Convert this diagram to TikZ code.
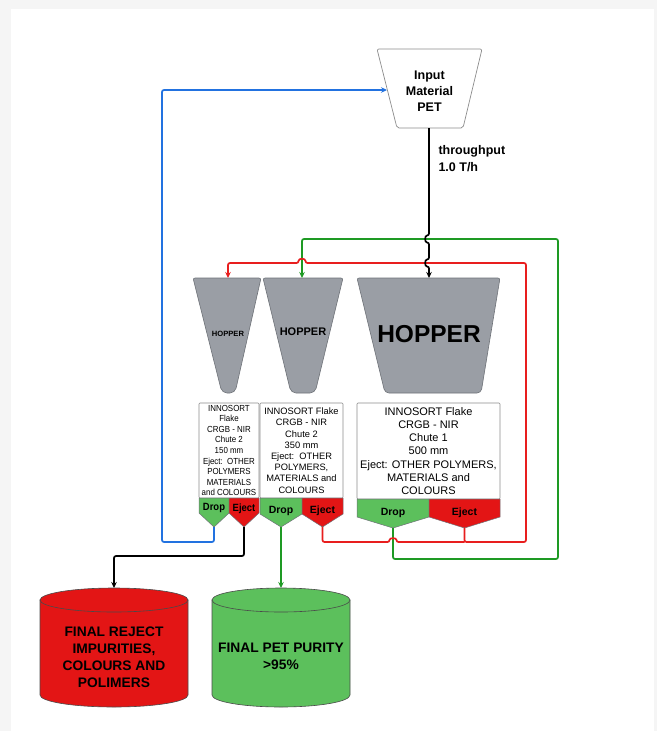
\documentclass[tikz,border=0pt]{standalone}
\usepackage{fontspec}
\setmainfont{Liberation Sans}
\newfontfamily\narrowsans[FakeStretch=0.9]{Liberation Sans}
\usetikzlibrary{arrows.meta}
\definecolor{bggray}{HTML}{F5F5F5}
\definecolor{hopgray}{HTML}{9A9EA5}
\definecolor{hopedge}{HTML}{6E7278}
\definecolor{boxedge}{HTML}{8C8C8C}
\definecolor{redfill}{HTML}{E31515}
\definecolor{greenfill}{HTML}{5CC05C}
\definecolor{redc}{HTML}{E81E1E}
\definecolor{greenc}{HTML}{1E9A24}
\definecolor{bluec}{HTML}{2272E0}
\definecolor{cyledge}{HTML}{4A4A4A}
\begin{document}
\begin{tikzpicture}[x=1pt,y=-1pt,
  conn/.style={line width=1.7pt, rounded corners=2pt},
  arr/.style={-{Stealth[length=6pt,width=5.5pt]}},
  hopper/.style={fill=hopgray, draw=hopedge, line width=0.6pt, rounded corners=2pt},
  sbox/.style={draw=boxedge, fill=white, line width=0.6pt, rounded corners=1pt, inner sep=0pt, align=center},
  dropsh/.style={fill=greenfill, draw=hopedge, line width=0.5pt},
  ejectsh/.style={fill=redfill, draw=hopedge, line width=0.5pt},
  cylsh/.style={draw=cyledge, line width=0.6pt},
  cyltext/.style={align=center, font=\bfseries\fontsize{13.8}{17}\selectfont},
]
\useasboundingbox (0,0) rectangle (657,731);
\fill[bggray] (0,0) rectangle (657,731);
\fill[white] (11,9) rectangle (654,731);

% Input box
\draw[fill=white, draw=boxedge, line width=0.7pt, rounded corners=2pt]
  (377,49) -- (482,49) -- (463,128) -- (397,128) -- cycle;
\node[align=center, font=\bfseries\fontsize{12.5}{16}\selectfont] (input) at (429.5,91) {Input\\Material\\PET};
\coordinate (inbot) at (429,128);
\coordinate (inleft) at (387,90);
\node[anchor=west, align=left, font=\bfseries\fontsize{12.5}{17}\selectfont] (thr) at (435,159) {throughput\\1.0 T/h};

% Hoppers
\draw[hopper] (193,278) -- (261,278) [rounded corners=5pt] -- (235,393) -- (222,393) [rounded corners=2pt] -- cycle;
\node[font=\bfseries\fontsize{7.6}{9}\selectfont] (hA) at (228,334) {HOPPER};
\coordinate (hAtop) at (228,278);
\draw[hopper] (263,278) -- (343,278) [rounded corners=5pt] -- (315,393) -- (291,393) [rounded corners=2pt] -- cycle;
\node[font=\bfseries\fontsize{11}{13}\selectfont] (hB) at (303,332) {HOPPER};
\coordinate (hBtop) at (302,278);
\draw[hopper] (357,278) -- (500,278) [rounded corners=4pt] -- (481,393) -- (385,393) [rounded corners=2pt] -- cycle;
\node[font=\bfseries\fontsize{24.5}{28}\selectfont] (hC) at (429,334) {HOPPER};
\coordinate (hCtop) at (429,278);

% Sorter boxes
\node[sbox, minimum width=60, minimum height=95, font=\narrowsans\fontsize{8.8}{10.6}\selectfont] (sA) at (229,450.5)
  {INNOSORT\\Flake\\CRGB - NIR\\Chute 2\\150 mm\\Eject:\ \ OTHER\\POLYMERS\\MATERIALS\\and COLOURS};
\node[sbox, minimum width=83, minimum height=95, font=\fontsize{9.3}{11.2}\selectfont] (sB) at (301.5,450.5)
  {INNOSORT Flake\\CRGB - NIR\\Chute 2\\350 mm\\Eject:\ \ OTHER\\POLYMERS,\\MATERIALS and\\COLOURS};
\node[sbox, minimum width=143, minimum height=96, font=\fontsize{11}{13.3}\selectfont] (sC) at (428.5,451)
  {INNOSORT Flake\\CRGB - NIR\\Chute 1\\500 mm\\Eject: OTHER POLYMERS,\\MATERIALS and\\COLOURS};

% Drop / Eject outlets
\draw[dropsh] (199,498) -- (229,498) -- (229,513) -- (214,527) -- (199,513) -- cycle;
\draw[ejectsh] (229,498) -- (259,498) -- (259,513) -- (244,527) -- (229,513) -- cycle;
\node[font=\narrowsans\bfseries\fontsize{10.5}{11}\selectfont] (dA) at (214,508) {Drop};
\node[font=\narrowsans\bfseries\fontsize{10.5}{11}\selectfont] (eA) at (244,509) {Eject};
\coordinate (dropA) at (214,527);
\coordinate (ejectA) at (244,527);

\draw[dropsh] (260,498) -- (302,498) -- (302,514) -- (281,527) -- (260,514) -- cycle;
\draw[ejectsh] (302,498) -- (343,498) -- (343,514) -- (322.5,527) -- (302,514) -- cycle;
\node[font=\bfseries\fontsize{10.5}{12}\selectfont] (dB) at (281,511) {Drop};
\node[font=\bfseries\fontsize{10.5}{12}\selectfont] (eB) at (322.5,511) {Eject};
\coordinate (dropB) at (281,527);
\coordinate (ejectB) at (322.5,527);

\draw[dropsh] (357,499) -- (429,499) -- (429,517) -- (393,528) -- (357,517) -- cycle;
\draw[ejectsh] (429,499) -- (500,499) -- (500,517) -- (464.5,528) -- (429,517) -- cycle;
\node[font=\bfseries\fontsize{10.5}{12}\selectfont] (dC) at (393,513) {Drop};
\node[font=\bfseries\fontsize{10.5}{12}\selectfont] (eC) at (464.5,513) {Eject};
\coordinate (dropC) at (393,528);
\coordinate (ejectC) at (464.5,528);

% Cylinders
\path[fill=redfill, cylsh] (40,600) -- (40,695)
  arc[start angle=180, end angle=0, x radius=74, y radius=12] -- (188,600) -- cycle;
\draw[fill=redfill, cylsh] (114,600) ellipse[x radius=74, y radius=12];
\node[cyltext] (cylR) at (114,657) {FINAL REJECT\\IMPURITIES,\\COLOURS AND\\POLIMERS};
\coordinate (cylRtop) at (114,588);

\path[fill=greenfill, cylsh] (212,600) -- (212,695)
  arc[start angle=180, end angle=0, x radius=69, y radius=12] -- (350,600) -- cycle;
\draw[fill=greenfill, cylsh] (281,600) ellipse[x radius=69, y radius=12];
\node[cyltext] (cylG) at (281,656) {FINAL PET PURITY\\>95\%};
\coordinate (cylGtop) at (281,588);

% Connectors
\draw[conn, greenc, arr] (dropC) -- (393,559) -- (558,559) -- (558,239) -- (302,239) -- (hBtop);
\draw[conn, redc, arr] (ejectC) -- (464.5,542) -- (526,542) -- (526,263) -- (305.5,263)
  .. controls (305.5,258) and (298.5,258) .. (298.5,263) -- (228,263) -- (hAtop);
\draw[conn, redc] (ejectB) -- (322.5,542) -- (389.5,542)
  .. controls (389.5,537.5) and (396.5,537.5) .. (396.5,542) -- (464.5,542);
\draw[conn, black, arr] (inbot) -- (429,235.5)
  .. controls (424.5,235.5) and (424.5,242.5) .. (429,242.5) -- (429,259.5)
  .. controls (424.5,259.5) and (424.5,266.5) .. (429,266.5) -- (hCtop);
\draw[conn, bluec, arr] (dropA) -- (214,542) -- (162,542) -- (162,90) -- (inleft);
\draw[conn, black, arr] (ejectA) -- (244,556) -- (114,556) -- (cylRtop);
\draw[conn, greenc, arr] (dropB) -- (cylGtop);
\end{tikzpicture}
\end{document}
